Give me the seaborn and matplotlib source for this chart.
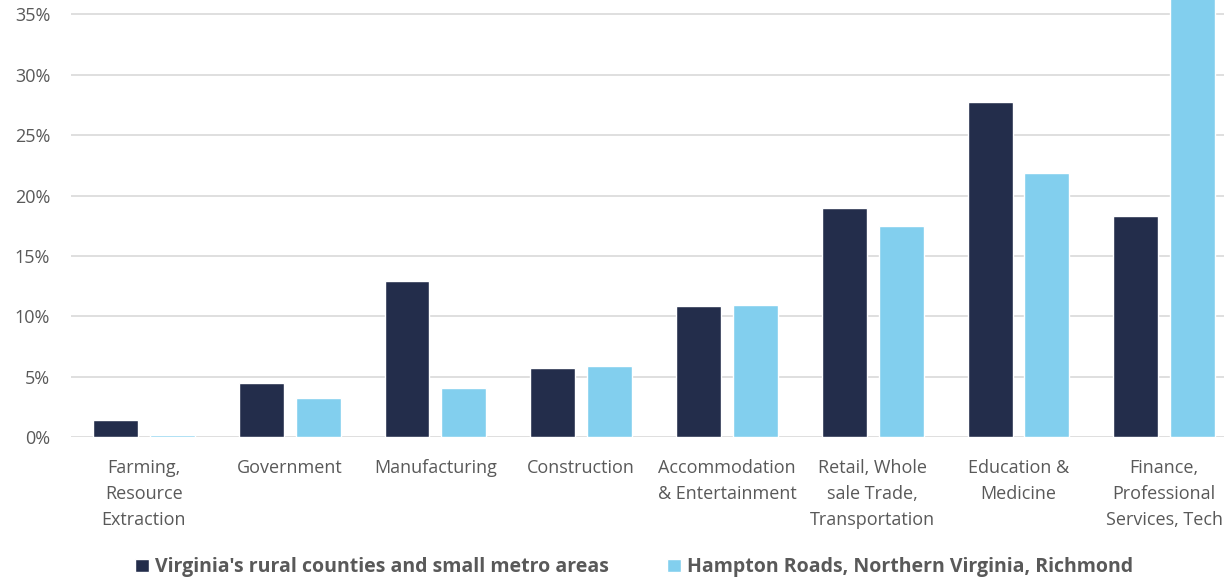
import matplotlib
matplotlib.use("Agg")
import matplotlib.pyplot as plt
import seaborn as sns
import pandas as pd
from matplotlib.ticker import PercentFormatter

# data (percent of jobs)
categories = ["Farming,\nResource\nExtraction", "Government", "Manufacturing", "Construction",
              "Accommodation\n& Entertainment", "Retail, Whole\nsale Trade,\nTransportation",
              "Education &\nMedicine", "Finance,\nProfessional\nServices, Tech"]
rural_small_metro = [1.4, 4.45, 12.9, 5.75, 10.85, 18.95, 27.75, 18.3]
large_metro = [0.2, 3.25, 4.05, 5.85, 10.9, 17.45, 21.85, 40.0]
series_names = ["Virginia's rural counties and small metro areas",
                "Hampton Roads, Northern Virginia, Richmond"]
colors = ["#232D4B", "#82CFEE"]

df = pd.DataFrame({
    "category": categories * 2,
    "value": rural_small_metro + large_metro,
    "series": [series_names[0]] * len(categories) + [series_names[1]] * len(categories),
})

sns.set_style("white")
plt.rcParams['font.family'] = ['Open Sans', 'DejaVu Sans']

fig = plt.figure(figsize=(12.24, 5.79), dpi=100)
ax = fig.add_axes([71 / 1224, (579 - 437) / 579, (1224 - 71) / 1224, 437 / 579])

sns.barplot(data=df, x="category", y="value", hue="series", palette=colors,
            width=0.78, gap=0.21, saturation=1, ax=ax, zorder=3)

ax.set_ylim(0, 36.2)
ax.set_xlim(-0.5, 7.41)
ax.set_yticks(range(0, 40, 5))
ax.yaxis.set_major_formatter(PercentFormatter(decimals=0))
ax.grid(axis="y", color="#d9d9d9", linewidth=1.2, zorder=0)
for s in ax.spines.values():
    s.set_visible(False)
ax.set_xlabel("")
ax.set_ylabel("")
ax.tick_params(axis="y", length=0, pad=15, labelsize=13, labelcolor="#595959")
ax.tick_params(axis="x", length=0, pad=16, labelsize=13, labelcolor="#595959")
for t in ax.get_xticklabels():
    t.set_linespacing(1.55)

ax.legend_.remove()
handles, labels = ax.get_legend_handles_labels()
fig.legend(handles, labels, loc="center", bbox_to_anchor=(0.518, 0.02), ncol=2,
           frameon=False, handlelength=0.7, handleheight=0.7, handletextpad=0.3,
           columnspacing=3.0, prop={"weight": "bold", "size": 14}, labelcolor="#595959")

fig.savefig("out.png", dpi=100)
